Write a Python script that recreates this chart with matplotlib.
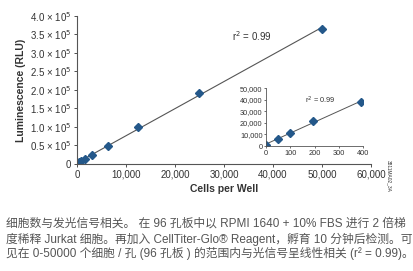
import matplotlib
matplotlib.use("Agg")
import matplotlib.pyplot as plt
import numpy as np
from matplotlib.ticker import FuncFormatter

plt.rcParams['font.family'] = ['Liberation Sans', 'Noto Sans CJK SC', 'DejaVu Sans']

# Main data: cells per well vs luminescence (RLU)
cells = [0, 390, 781, 1562, 3125, 6250, 12500, 25000, 50000]
rlu = [800, 4000, 7500, 13000, 25000, 49500, 100000, 192000, 365000]
rlu_err = [0, 0, 0, 0, 0, 0, 0, 0, 9000]

# Inset data
cells_in = [0, 49, 98, 195, 390]
rlu_in = [1200, 6000, 11500, 21500, 38000]

main_yticks = [0, 0.5e5, 1.0e5, 1.5e5, 2.0e5, 2.5e5, 3.0e5, 3.5e5, 4.0e5]
main_ylabels = ["0", "0.5 × 10$^5$", "1.0 × 10$^5$", "1.5 × 10$^5$", "2.0 × 10$^5$",
                "2.5 × 10$^5$", "3.0 × 10$^5$", "3.5 × 10$^5$", "4.0 × 10$^5$"]
main_xticks = [0, 10000, 20000, 30000, 40000, 50000, 60000]
inset_xticks = [0, 100, 200, 300, 400]
inset_yticks = [0, 10000, 20000, 30000, 40000, 50000]

caption_lines = [
    "细胞数与发光信号相关。 在 96 孔板中以 RPMI 1640 + 10% FBS 进行 2 倍梯",
    "度稀释 Jurkat 细胞。再加入 CellTiter-Glo® Reagent，孵育 10 分钟后检测。可",
    "见在 0-50000 个细胞 / 孔 (96 孔板 ) 的范围内与光信号呈线性相关 (r² = 0.99)。",
]

marker_color = "#24588a"
line_color = "#555555"
text_color = "#333333"

fig = plt.figure(figsize=(4.14, 2.71), dpi=100)

ax = fig.add_axes([0.186, 0.395, 0.710, 0.546])
# regression line
coef = np.polyfit(cells, rlu, 1)
xl = np.array([0, 50000])
ax.plot(xl, np.polyval(coef, xl), color=line_color, lw=0.8, zorder=1)
ax.errorbar(cells, rlu, yerr=rlu_err, fmt="D", ms=4.5, color=marker_color,
            ecolor=marker_color, elinewidth=1, capsize=0, zorder=2)
ax.set_xlim(0, 60000)
ax.set_ylim(0, 4.0e5)
ax.set_xticks(main_xticks)
ax.xaxis.set_major_formatter(FuncFormatter(lambda v, p: f"{int(v):,}"))
ax.set_yticks(main_yticks)
ax.set_yticklabels(main_ylabels)
ax.spines['top'].set_visible(False)
ax.spines['right'].set_visible(False)
for s in ['left', 'bottom']:
    ax.spines[s].set_color(line_color)
    ax.spines[s].set_linewidth(0.8)
ax.tick_params(axis='both', labelsize=7, colors=text_color, length=2.5, width=0.6, pad=1.5)
ax.set_xlabel("Cells per Well", fontsize=7.5, fontweight='bold', color=text_color, labelpad=3)
ax.set_ylabel("Luminescence (RLU)", fontsize=7.5, fontweight='bold', color=text_color, labelpad=3)
ax.text(0.527, 0.83, "r$^2$ = 0.99", transform=ax.transAxes, fontsize=7, color=text_color)

# inset
axi = fig.add_axes([0.643, 0.461, 0.234, 0.214])
coef_i = np.polyfit(cells_in, rlu_in, 1)
xi = np.array([0, 390])
axi.plot(xi, np.polyval(coef_i, xi), color=line_color, lw=0.7, zorder=1)
axi.plot(cells_in, rlu_in, "D", ms=3.8, color=marker_color, zorder=2)
axi.set_xlim(0, 400)
axi.set_ylim(0, 50000)
axi.set_xticks(inset_xticks)
axi.set_yticks(inset_yticks)
axi.yaxis.set_major_formatter(FuncFormatter(lambda v, p: f"{int(v):,}"))
axi.spines['top'].set_visible(False)
axi.spines['right'].set_visible(False)
for s in ['left', 'bottom']:
    axi.spines[s].set_color(line_color)
    axi.spines[s].set_linewidth(0.6)
axi.tick_params(axis='both', labelsize=5.3, colors=text_color, length=1.5, width=0.5, pad=1)
axi.text(0.40, 0.74, "r$^2$ = 0.99", transform=axi.transAxes, fontsize=5.3, color=text_color)

fig.text(0.94, 0.35, "3811MA02_3A", rotation=270, fontsize=3.5, color=text_color,
         ha='center', va='center')

for i, line in enumerate(caption_lines):
    fig.text(0.015, 1 - (224 + 15 * i) / 271, line, fontsize=8.5, color="#555555",
             va='center', ha='left',
             family=['Liberation Sans', 'Noto Sans CJK SC', 'DejaVu Sans'])

fig.savefig("out.png", dpi=100)
